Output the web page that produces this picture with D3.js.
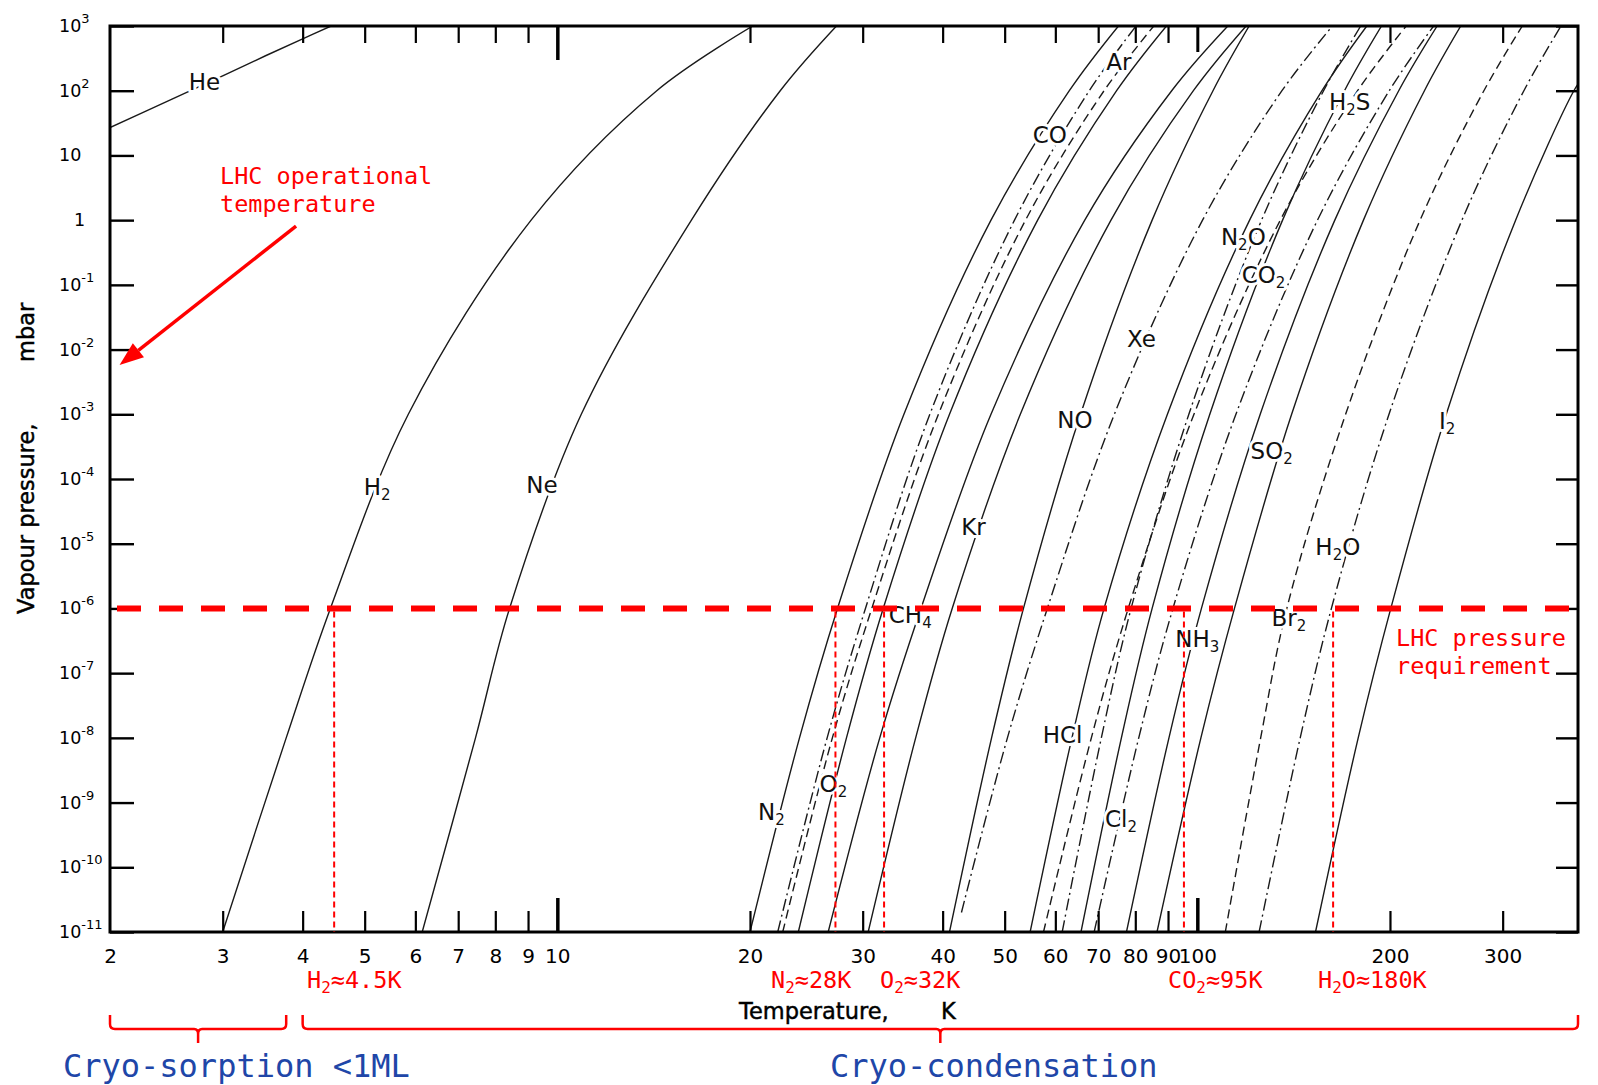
<!DOCTYPE html>
<html>
<head>
<meta charset="utf-8">
<script src="https://cdn.jsdelivr.net/npm/d3@7"></script>
<style>
body { margin: 0; background: #fff; }
svg { display: block; }
.curve { fill: none; stroke: #1a1a1a; stroke-width: 1.4; }
.lbl { font-family: "DejaVu Sans", sans-serif; font-size: 23px; fill: #111;
       paint-order: stroke; stroke: #fff; stroke-width: 6; stroke-linejoin: round; }
.red { font-family: "DejaVu Sans Mono", monospace; font-size: 23.5px; fill: #f00; }
.blue { font-family: "DejaVu Sans Mono", monospace; font-size: 32px; fill: #2046a8; }
.title { font-family: "DejaVu Sans", sans-serif; font-size: 22.5px; fill: #000; stroke: #000; stroke-width: 0.45; }
</style>
</head>
<body>
<svg id="chart" width="1598" height="1085"></svg>
<script>
var levels = [1e-11, 1e-8, 1e-6, 1e-3, 1, 1e2, 1e3];

// temperature (K) of each curve at those levels
var tH2  = [3.0, 3.77, 4.42, 5.85, 9.1, 14.3, 20.2];
var tNe  = [6.15, 7.45, 8.42, 10.9, 16.2, 22.3, 27.3];
var tN2  = [20.0, 23.9, 27.4, 34.8, 47.6, 63.1, 75.3];
var tCO  = [22.1, 26.4, 30.3, 38.2, 51.8, 67.8, 80.2];
var tAr  = [22.5, 26.9, 31.0, 39.4, 53.9, 71.5, 85.5];
var tO2  = [23.8, 28.3, 32.3, 41.0, 56.3, 74.8, 89.5];
var tCH4 = [26.5, 31.9, 37.0, 47.6, 66.7, 91.2, 111.6];
var tKr  = [30.6, 36.3, 41.4, 52.9, 73.3, 98.6, 119.2];
var tNO  = [41.0, 47.7, 53.5, 65.7, 85.0, 105.8, 120.5];
var tXe  = [null, 50.5, 58.3, 74.2, 101.9, 135.6, 162.6];
var tHCl = [54.8, 63.7, 71.5, 89.8, 120.7, 156.6, 184];
var tN2O = [61.5, 70.8, 78.8, 97.0, 126.0, 157.5, 180];
var tH2S = [57.5, 68.3, 78.0, 98.8, 134.8, 178, 212];
var tCO2 = [65.8, 76.1, 85.0, 104.6, 135.9, 169.8, 194];
var tCl2 = [69, 81, 91.6, 114.9, 154.1, 199.5, 234];
var tNH3 = [77.5, 90.3, 101.5, 125.4, 164, 206.4, 237];
var tSO2 = [86.5, 101.3, 114.3, 140.4, 181.8, 226.4, 258];
var tBr2 = [110.6, 125.6, 138, 170.5, 222.9, 280.4, 322];
var tH2O = [124.9, 144.8, 162, 199.3, 259.1, 323.8, 370];
var tI2  = [153, 178.4, 200.6, 244.9, 314.3, 387.6, null];

// helium runs off the left axis, xenon stops short of the bottom, iodine leaves on the right
var heT = [2, 2.5, 3, 3.5, 4, 4.43];
var heP = [27, 74, 170, 347, 631, 1000];
var xeStart = [42.8, 2e-11];
var i2End = [400, 160];

var gasNames = ["H2","Ne","N2","CO","Ar","O2","CH4","Kr","NO","Xe","HCl","N2O","H2S","CO2","Cl2","NH3","SO2","Br2","H2O","I2"];
var gasTemps = [tH2,tNe,tN2,tCO,tAr,tO2,tCH4,tKr,tNO,tXe,tHCl,tN2O,tH2S,tCO2,tCl2,tNH3,tSO2,tBr2,tH2O,tI2];
var dashedGas = ["Ar","H2S","Br2"];
var dotDashGas = ["CO","Xe","N2O","Cl2","H2O"];

// curve labels
var labelText = ["He","H_2","Ne","N_2","O_2","CH_4","Kr","NO","HCl","Xe","Cl_2","NH_3","SO_2","Br_2","H_2O","I_2","N_2O","CO_2","H_2S","CO","Ar"];
var labelT = [2.81,5.23,9.46,21.6,27.0,35.6,44.7,64.4,61.6,81.8,76.0,100,130.7,139,165.8,245.6,118,126.9,173,58.8,75.4];
var labelP = [136,7.6e-5,8.1e-5,7.2e-10,1.95e-9,7.9e-7,1.8e-5,8.3e-4,1.1e-8,1.48e-2,5.6e-10,3.4e-7,2.75e-4,7.2e-7,8.9e-6,7.9e-4,0.54,0.14,66,21,282];

// axes
var xTicks = [2,3,4,5,6,7,8,9,10,20,30,40,50,60,70,80,90,100,200,300];
var yExp = [-11,-10,-9,-8,-7,-6,-5,-4,-3,-2,-1,0,1,2,3];

// annotations
var pLimit = 1e-6;
var markT = [4.48, 27.2, 32.4, 95.3, 163];
var markText = ["H_2≈4.5K","N_2≈28K","O_2≈32K","CO_2≈95K","H_2O≈180K"];
var arrowTail = [3.906, 0.81];
var arrowTip = [2.07, 5.75e-3];
var sorptionRange = [2, 3.77];
var condensRange = [4.0, 393.4];

var svg = d3.select("#chart");
var x = d3.scaleLog().domain([2, 393.4]).range([110, 1578]);
var y = d3.scaleLog().domain([1e-11, 1e3]).range([932, 26]);
var pLeft = x.range()[0], pRight = x.range()[1], pTop = y.range()[1], pBottom = y.range()[0];

function richText(sel, str, subSize, shift) {
  var parts = str.split("_");
  sel.append("tspan").text(parts[0]);
  for (var i = 1; i < parts.length; i++) {
    sel.append("tspan").attr("font-size", subSize).attr("dy", shift).text(parts[i][0]);
    if (parts[i].length > 1) sel.append("tspan").attr("dy", -shift).text(parts[i].slice(1));
  }
}

svg.append("clipPath").attr("id", "plot")
  .append("rect").attr("x", pLeft).attr("y", pTop)
  .attr("width", pRight - pLeft).attr("height", pBottom - pTop);

// curves
var line = d3.line()
  .x(function(d) { return x(d[0]); })
  .y(function(d) { return y(d[1]); })
  .curve(d3.curveCatmullRom.alpha(0.5));

var curves = [{ name: "He", pts: heT.map(function(t, i) { return [t, heP[i]]; }) }];
gasNames.forEach(function(name, g) {
  var pts = [];
  gasTemps[g].forEach(function(t, i) { if (t != null) pts.push([t, levels[i]]); });
  if (name === "Xe") pts.unshift(xeStart);
  if (name === "I2") pts.push(i2End);
  curves.push({ name: name, pts: pts });
});

var gc = svg.append("g").attr("clip-path", "url(#plot)");
curves.forEach(function(c) {
  var p = gc.append("path").attr("class", "curve").attr("d", line(c.pts));
  if (dashedGas.indexOf(c.name) >= 0) p.attr("stroke-dasharray", "9,5");
  if (dotDashGas.indexOf(c.name) >= 0) p.attr("stroke-dasharray", "12,4,2,4");
});

// curve labels
labelText.forEach(function(s, i) {
  var t = svg.append("text").attr("class", "lbl")
    .attr("x", x(labelT[i])).attr("y", y(labelP[i]) + 8)
    .attr("text-anchor", "middle");
  richText(t, s, 15, 5);
});

// frame and ticks
svg.append("rect").attr("x", pLeft).attr("y", pTop)
  .attr("width", pRight - pLeft).attr("height", pBottom - pTop)
  .attr("fill", "none").attr("stroke", "#000").attr("stroke-width", 3);

var gx = svg.append("g").attr("transform", "translate(0," + pBottom + ")")
  .call(d3.axisBottom(x).tickValues(xTicks).tickFormat(d3.format("d")).tickSize(-21).tickPadding(17));
gx.select(".domain").remove();
gx.attr("font-size", 20).attr("font-family", "DejaVu Sans");
gx.selectAll(".tick line").attr("stroke-width", 2.2)
  .filter(function(d) { return d === 2; }).remove();
gx.selectAll(".tick line").filter(function(d) { return d === 10 || d === 100; })
  .attr("y2", -34).attr("stroke-width", 3.5);
gx.selectAll(".tick text").attr("fill", "#000");

var gt = svg.append("g").attr("transform", "translate(0," + pTop + ")")
  .call(d3.axisTop(x).tickValues(xTicks.slice(1)).tickFormat("").tickSize(-17));
gt.select(".domain").remove();
gt.selectAll(".tick line").attr("stroke-width", 2.2)
  .filter(function(d) { return d === 10; }).attr("y2", 34).attr("stroke-width", 3.5);
gt.selectAll(".tick line").filter(function(d) { return d === 100; }).attr("y2", 26).attr("stroke-width", 3);

var yTicks = yExp.map(function(e) { return Math.pow(10, e); });
var gl = svg.append("g").attr("transform", "translate(" + pLeft + ",0)")
  .call(d3.axisLeft(y).tickValues(yTicks).tickFormat("").tickSize(-24));
gl.select(".domain").remove();
gl.selectAll(".tick line").attr("stroke-width", 2.4);

var gr = svg.append("g").attr("transform", "translate(" + pRight + ",0)")
  .call(d3.axisRight(y).tickValues(yTicks).tickFormat("").tickSize(-22));
gr.select(".domain").remove();
gr.selectAll(".tick line").attr("stroke-width", 2.4);

yExp.forEach(function(e) {
  var yy = y(Math.pow(10, e)) + 6;
  var t = svg.append("text").attr("font-family", "DejaVu Sans").attr("font-size", 17.5)
    .attr("fill", "#000").attr("y", yy);
  if (e === 0) { t.attr("x", 74).text("1"); return; }
  t.attr("x", 59).append("tspan").text("10");
  if (e !== 1) t.append("tspan").attr("font-size", 13).attr("dy", -9).text(e < 0 ? "-" + (-e) : e);
});

// axis titles
svg.append("text").attr("class", "title").attr("transform", "translate(34,614) rotate(-90)").text("Vapour pressure,");
svg.append("text").attr("class", "title").attr("transform", "translate(34,362) rotate(-90)").text("mbar");
svg.append("text").attr("class", "title").attr("x", 739).attr("y", 1019).text("Temperature,");
svg.append("text").attr("class", "title").attr("x", 941).attr("y", 1019).text("K");

// red annotations
svg.append("line")
  .attr("x1", pLeft + 7).attr("x2", pRight - 4)
  .attr("y1", y(pLimit)).attr("y2", y(pLimit))
  .attr("stroke", "#f00").attr("stroke-width", 6).attr("stroke-dasharray", "24,18");

var markX = [307, 771, 880, 1168, 1318];
markT.forEach(function(t, i) {
  svg.append("line")
    .attr("x1", x(t)).attr("x2", x(t))
    .attr("y1", y(pLimit) + 3).attr("y2", pBottom)
    .attr("stroke", "#f00").attr("stroke-width", 2).attr("stroke-dasharray", "6,4");
  var tx = svg.append("text").attr("class", "red").attr("x", markX[i]).attr("y", 988);
  richText(tx, markText[i], 16, 5);
});

svg.append("text").attr("class", "red").attr("x", 220).attr("y", 184).text("LHC operational");
svg.append("text").attr("class", "red").attr("x", 220).attr("y", 212).text("temperature");
svg.append("text").attr("class", "red").attr("x", 1396).attr("y", 646).text("LHC pressure");
svg.append("text").attr("class", "red").attr("x", 1396).attr("y", 674).text("requirement");

var a0 = [x(arrowTail[0]), y(arrowTail[1])], a1 = [x(arrowTip[0]), y(arrowTip[1])];
var adx = a1[0] - a0[0], ady = a1[1] - a0[1], alen = Math.hypot(adx, ady);
var ux = adx / alen, uy = ady / alen, hl = 24, hw = 9;
var bx = a1[0] - ux * hl, by = a1[1] - uy * hl;
svg.append("line").attr("x1", a0[0]).attr("y1", a0[1]).attr("x2", bx).attr("y2", by)
  .attr("stroke", "#f00").attr("stroke-width", 3.5);
svg.append("path")
  .attr("d", "M" + a1[0] + "," + a1[1] + "L" + (bx - uy * hw) + "," + (by + ux * hw) +
        "L" + (bx + uy * hw) + "," + (by - ux * hw) + "Z")
  .attr("fill", "#f00");

function brace(range) {
  var x0 = x(range[0]), x1 = x(range[1]), xm = (x0 + x1) / 2;
  var yt = 1015, yh = 1029, yp = 1043;
  var d = "M" + x0 + "," + yt + "L" + x0 + "," + (yh - 5) +
    "Q" + x0 + "," + yh + " " + (x0 + 5) + "," + yh +
    "L" + (xm - 4) + "," + yh + "Q" + xm + "," + yh + " " + xm + "," + (yh + 5) +
    "L" + xm + "," + yp + "M" + xm + "," + (yh + 5) +
    "Q" + xm + "," + yh + " " + (xm + 4) + "," + yh +
    "L" + (x1 - 5) + "," + yh + "Q" + x1 + "," + yh + " " + x1 + "," + (yh - 5) +
    "L" + x1 + "," + yt;
  svg.append("path").attr("d", d).attr("fill", "none")
    .attr("stroke", "#f00").attr("stroke-width", 2.5);
}
brace(sorptionRange);
brace(condensRange);

svg.append("text").attr("class", "blue").attr("x", 63).attr("y", 1077).text("Cryo-sorption <1ML");
svg.append("text").attr("class", "blue").attr("x", 830).attr("y", 1077).text("Cryo-condensation");
</script>
</body>
</html>
